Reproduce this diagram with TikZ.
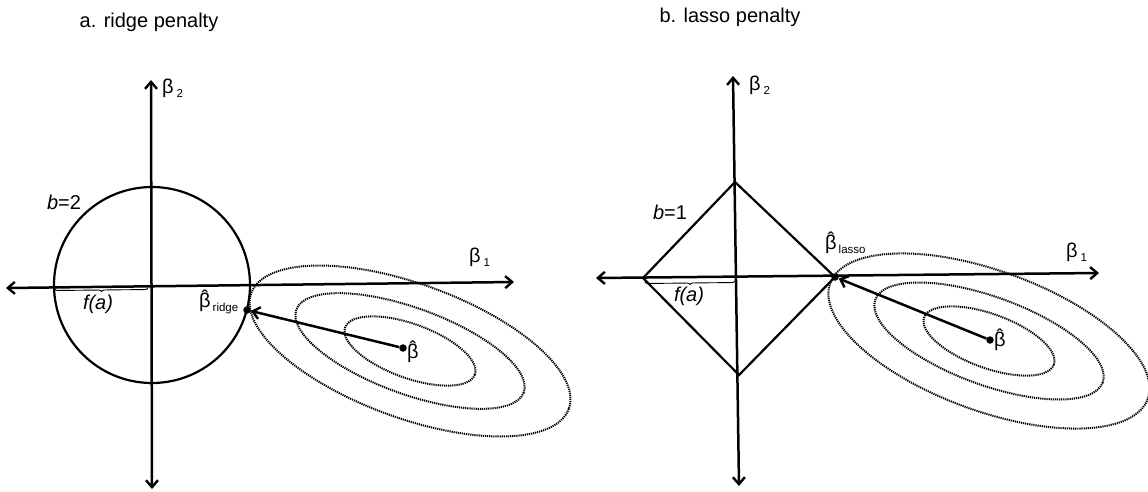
\documentclass[tikz,border=0pt]{standalone}
\usepackage{fontspec}
\setmainfont{Liberation Sans}
\usetikzlibrary{arrows.meta,decorations.pathreplacing}
\newcommand{\subtxt}[2]{\hspace{#2}\raisebox{-4pt}{\fontsize{11.5}{12}\selectfont #1}}
\newcommand{\bhat}{\accent"02C6 β}
\begin{document}
\begin{tikzpicture}[x=1pt,y=-1pt,
  tip/.tip={Straight Barb[length=7pt,width=12pt,line width=2.4pt]},
  axis/.style={line width=2.5pt,tip-tip},
  vec/.style={line width=2.5pt,-tip},
  shapeline/.style={line width=2.2pt},
  contour/.style={line width=2pt,dash pattern=on 1.2pt off 0.9pt},
  dot/.style={circle,fill=black,inner sep=0pt,minimum size=7.5pt},
  title/.style={font=\fontsize{20}{24}\selectfont,inner sep=0pt},
  lab/.style={font=\fontsize{20}{24}\selectfont,inner sep=0pt,anchor=west},
  ann/.style={font=\fontsize{20}{24}\selectfont,inner sep=0pt},
  brc/.style={decorate,decoration={brace,amplitude=3pt,mirror},line width=0.9pt}]
\useasboundingbox (0,0) rectangle (1148,491);

% ---------- a. ridge penalty ----------
\node[title] (ta) at (149,22) {a. ridge penalty};
\coordinate (aL) at (6,288);
\coordinate (aR) at (514,282);
\coordinate (aT) at (151,80);
\coordinate (aB) at (152,489);
\draw[shapeline] (152,285) circle[radius=98];
\foreach \a/\b in {69/27,121/43,169/67}
  \draw[contour,rotate around={-20:(410,351)}] (410,351) ellipse[x radius=\a,y radius=\b];
\draw[axis] (aL) -- (aR);
\draw[axis] (aB) -- (aT);
\node[lab] (b2a) at (162,88) {β\subtxt{2}{3pt}};
\node[lab] (b1a) at (469,257) {β\subtxt{1}{3pt}};
\node[ann] (bta) at (64,202) {\textit{b}=2};
\draw[brc] (55,289) -- (148,288);
\node[ann] (fa) at (98,304) {\textit{f(a)}};
\node[dot] (rp) at (247,310) {};
\node[dot] (bha) at (403,348) {};
\node[lab] (bhl) at (407,352) {\bhat};
\node[lab] (rl) at (199,302) {\bhat\subtxt{ridge}{2pt}};
\draw[vec] (bha) -- (rp);

% ---------- b. lasso penalty ----------
\node[title] (tb) at (730,17) {b. lasso penalty};
\coordinate (bL) at (596,278);
\coordinate (bR) at (1099,273);
\coordinate (bT) at (733,76);
\coordinate (bB) at (739,486);
\draw[shapeline] (643,278) -- (735,182) -- (835,277) -- (739,375) -- cycle;
\foreach \a/\b in {69/27,121/44,169/70}
  \draw[contour,rotate around={-20:(989,341)}] (989,341) ellipse[x radius=\a,y radius=\b];
\draw[axis] (bL) -- (bR);
\draw[axis] (bB) -- (bT);
\node[lab] (b2b) at (749,85) {β\subtxt{2}{3pt}};
\node[lab] (b1b) at (1066,252) {β\subtxt{1}{3pt}};
\node[ann] (btb) at (670,212) {\textit{b}=1};
\draw[brc] (645,282) -- (735,281);
\node[ann] (fb) at (689,296) {\textit{f(a)}};
\node[dot] (lp) at (835,277) {};
\node[dot] (bhb) at (990,340) {};
\node[lab] (bhr) at (994,340) {\bhat};
\node[lab] (ll) at (825,243) {\bhat\subtxt{lasso}{2pt}};
\draw[vec] (bhb) -- (lp);
\end{tikzpicture}
\end{document}
